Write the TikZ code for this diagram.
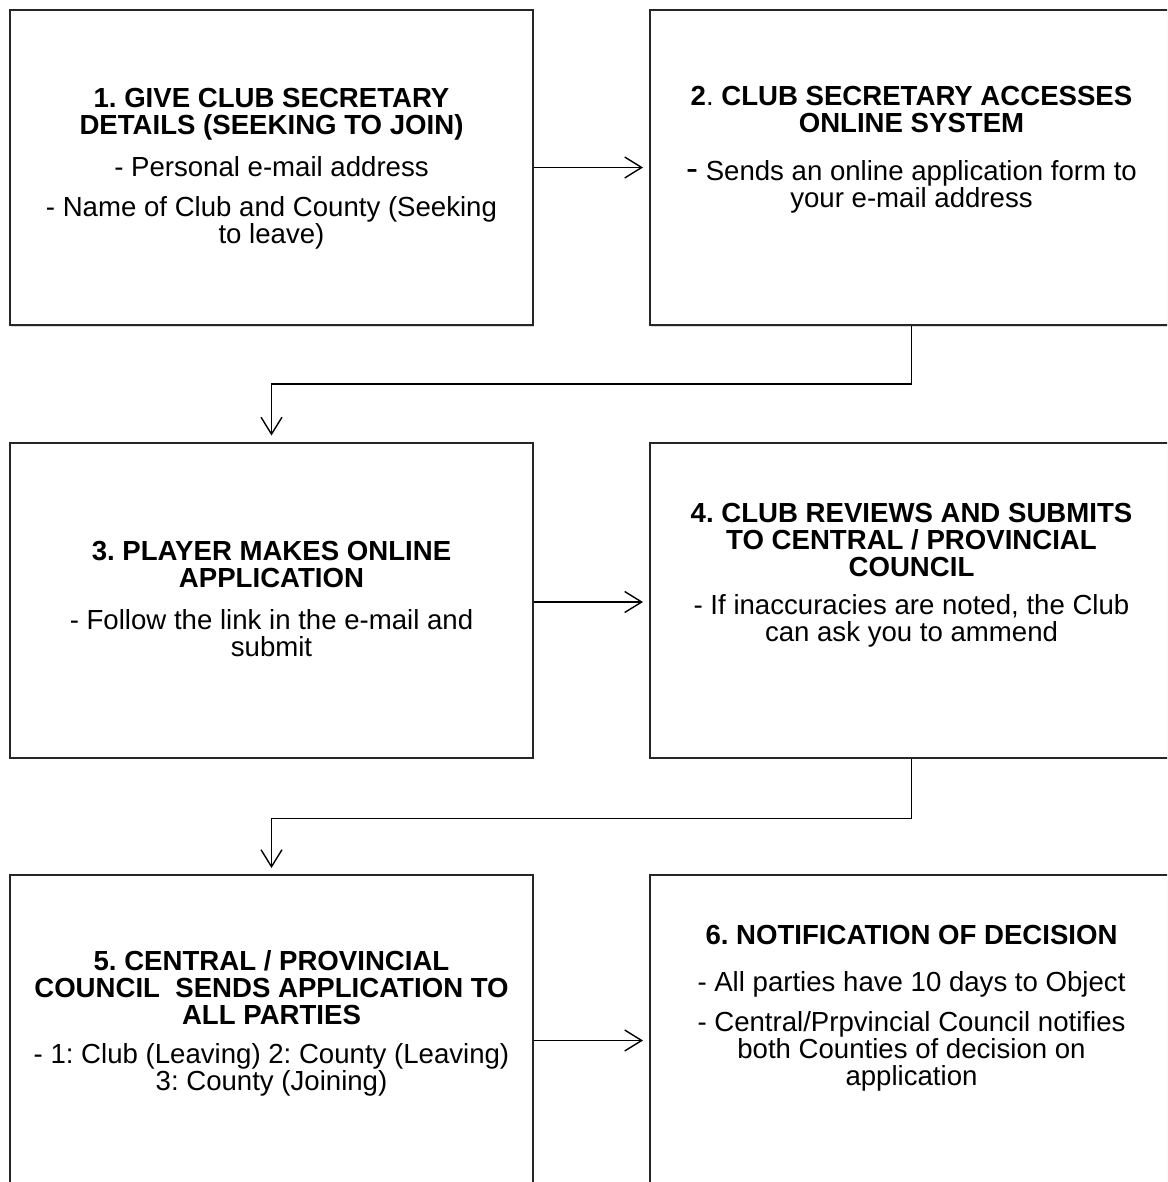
\documentclass[tikz,border=0pt]{standalone}
\usepackage{fontspec}
\setmainfont{Liberation Sans}
\usetikzlibrary{
    arrows.meta,
    shadows,
    positioning
}
\frenchspacing

\begin{document}
\begin{tikzpicture}[x=1pt, y=-1pt,
    box/.style={draw=black!85, line width=2pt, fill=white,
        minimum width=523pt, minimum height=315pt, inner sep=0pt,
        drop shadow={shadow xshift=1pt, shadow yshift=-1.5pt, opacity=0.3}},
    txt/.style={anchor=north, align=center, inner sep=0pt,
        font=\fontsize{27.6}{27}\selectfont},
    arr/.style={line width=1.4pt, -{Straight Barb[length=17pt, width=21pt]},
        shorten >=6pt}]
                        \clip (0, 0) rectangle (1167, 1182);
                        % boxes
                        \node[box] (b1) at (271.5, 167.5) {};
                        \node[box] (b2) at (911.5, 167.5) {};
                        \node[box] (b3) at (271.5, 600) {};
                        \node[box] (b4) at (911.5, 600) {};
                        \node[box] (b5) at (271.5, 1032.5) {};
                        \node[box] (b6) at (911.5, 1032.5) {};
                        % texts
                        \node[txt] (t1) at (271.5, 88) {\textbf{1. GIVE CLUB SECRETARY}\\
                            \textbf{DETAILS (SEEKING TO JOIN)}\\[15pt]
                            - Personal e-mail address\\[13pt]
                            - Name of Club and County (Seeking\\ to leave)};
                        \node[txt] (t2) at (911.5, 86) {\textbf{2{\mdseries .} CLUB SECRETARY ACCESSES}\\
                            \textbf{ONLINE SYSTEM}\\[21pt]
                            {\fontsize{36}{27}\selectfont -} Sends an online application form to\\
                            your e-mail address};
                        \node[txt] (t3) at (271.5, 541) {\textbf{3. PLAYER MAKES ONLINE}\\
                            \textbf{APPLICATION}\\[15pt]
                            - Follow the link in the e-mail and\\ submit};
                        \node[txt] (t4) at (911.5, 503) {\textbf{4. CLUB REVIEWS AND SUBMITS}\\
                            \textbf{TO CENTRAL / PROVINCIAL}\\
                            \textbf{COUNCIL}\\[11pt]
                            - If inaccuracies are noted, the Club\\ can ask you to ammend};
                        \node[txt] (t5) at (271.5, 950) {\textbf{5. CENTRAL / PROVINCIAL}\\
                            \textbf{COUNCIL \ SENDS APPLICATION TO}\\
                            \textbf{ALL PARTIES}\\[12pt]
                            - 1: Club (Leaving) 2: County (Leaving)\\ 3: County (Joining)};
                        \node[txt] (t6) at (911.5, 925) {\textbf{6. NOTIFICATION OF DECISION}\\[20pt]
                            - All parties have 10 days to Object\\[13pt]
                            - Central/Prpvincial Council notifies\\
                            both Counties of decision on\\ application};
                        % connectors
                        \draw[arr] (b1.east) -- (b2.west);
                        \draw[arr] ([yshift=-2pt]b3.east) -- ([yshift=-2pt]b4.west);
                        \draw[arr] ([yshift=-8pt]b5.east) -- ([yshift=-8pt]b6.west);
                        \draw[arr] (b2.south) -- ++(0, 58) -| (b3.north);
                        \draw[arr] (b4.south) -- ++(0, 60) -| (b5.north);
                    \end{tikzpicture}
\end{document}
